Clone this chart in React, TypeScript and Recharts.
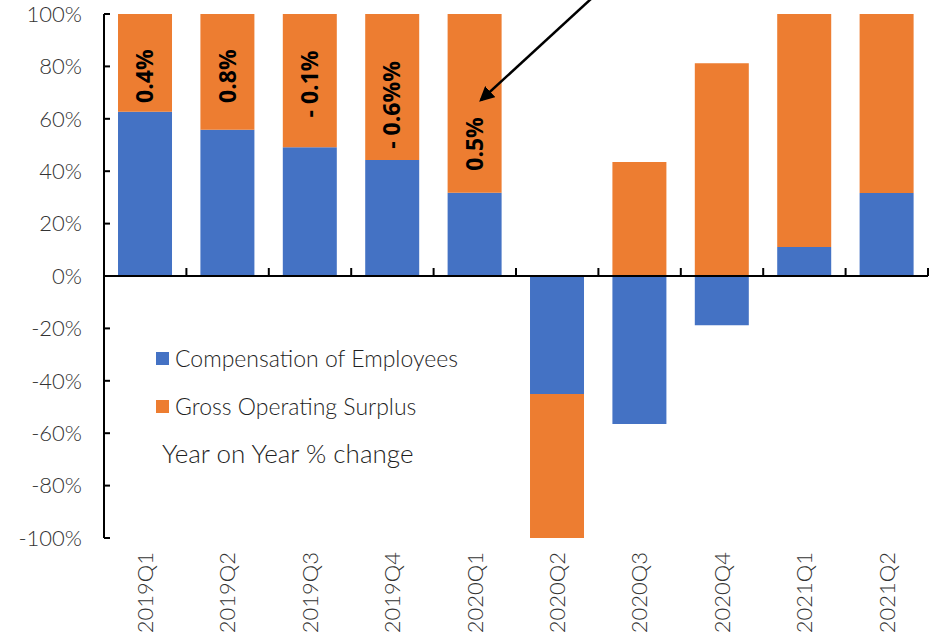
import {
  BarChart,
  Bar,
  XAxis,
  YAxis,
  ReferenceLine,
  ReferenceDot,
} from 'recharts';

const quarters = [
  '2019Q1', '2019Q2', '2019Q3', '2019Q4', '2020Q1',
  '2020Q2', '2020Q3', '2020Q4', '2021Q1', '2021Q2',
];
const compensation = [62.7, 55.8, 49.1, 44.3, 31.8, -45.0, -56.5, -18.8, 11.1, 31.7];
const surplus = [37.3, 44.2, 50.9, 55.7, 68.2, -55.0, 43.5, 81.2, 88.9, 68.3];
const yTicks = [-100, -80, -60, -40, -20, 0, 20, 40, 60, 80, 100];

// yoy % change notes written on the first five bars, and the level they sit at
const yoyNotes = ['0.4%', '0.8%', '- 0.1%', '- 0.6%%', '0.5%'];
const yoyNoteLevel = [76.3, 76.3, 73.3, 65.3, 50.4];

const BLUE = '#4472C4';
const ORANGE = '#ED7D31';
const FONT = 'Lato, "Open Sans", sans-serif';

const rows = quarters.map((q, i) => ({
  quarter: q,
  comp: compensation[i],
  gos: surplus[i],
}));

const ZeroAxis = (props: any) => {
  const { x1, y1, x2, y2 } = props;
  const step = (x2 - x1) / quarters.length;
  const marks = [];
  for (let i = 1; i <= quarters.length; i++) {
    marks.push(
      <line key={i} x1={x1 + i * step} x2={x1 + i * step} y1={y1} y2={y1 - 8} stroke="#000" strokeWidth={2} />
    );
  }
  return (
    <g>
      <line x1={x1} y1={y1} x2={x2} y2={y2} stroke="#000" strokeWidth={2} />
      {marks}
    </g>
  );
};

const QuarterTick = (props: any) => {
  const { x, y, payload } = props;
  return (
    <g transform={`translate(${x},${y + 6})`}>
      <text
        transform="rotate(-90)"
        textAnchor="end"
        dy="0.35em"
        fontSize={22}
        fontWeight={300}
        fontFamily={FONT}
        fill="#333"
      >
        {payload.value}
      </text>
    </g>
  );
};

const LegendBox = () => (
  <div
    style={{
      position: 'absolute',
      left: 156,
      top: 345,
      fontFamily: FONT,
      fontSize: 23,
      fontWeight: 300,
      color: '#1f1f1f',
      lineHeight: '26px',
    }}
  >
    <div style={{ display: 'flex', alignItems: 'center', height: 26 }}>
      <span style={{ width: 13, height: 13, background: BLUE, marginRight: 6 }} />
      Compensation of Employees
    </div>
    <div style={{ display: 'flex', alignItems: 'center', height: 26, marginTop: 22 }}>
      <span style={{ width: 13, height: 13, background: ORANGE, marginRight: 6 }} />
      Gross Operating Surplus
    </div>
    <div style={{ marginTop: 19, marginLeft: 6, fontSize: 26, lineHeight: '30px' }}>
      Year on Year % change
    </div>
  </div>
);

export default function App() {
  return (
    <div style={{ position: 'relative', width: 932, height: 642 }}>
      <style>{'body{margin:0}'}</style>
      <BarChart
        width={932}
        height={642}
        data={rows}
        stackOffset="sign"
        barCategoryGap="17%"
        margin={{ top: 14, right: 4, bottom: 0, left: 0 }}
      >
        <XAxis
          dataKey="quarter"
          axisLine={false}
          tickLine={false}
          interval={0}
          height={104}
          tick={<QuarterTick />}
        />
        <YAxis
          domain={[-100, 100]}
          ticks={yTicks}
          width={104}
          tickFormatter={(v) => `${v}%`}
          axisLine={{ stroke: '#000', strokeWidth: 2 }}
          tickLine={{ stroke: '#000', strokeWidth: 2 }}
          tickSize={-6}
          tickMargin={28}
          tick={{ fontSize: 22, fontWeight: 300, fontFamily: FONT, fill: '#333' }}
        />
        <Bar dataKey="comp" name="Compensation of Employees" stackId="a" fill={BLUE} isAnimationActive={false} />
        <Bar dataKey="gos" name="Gross Operating Surplus" stackId="a" fill={ORANGE} isAnimationActive={false} />
        <ReferenceLine y={0} shape={<ZeroAxis />} />
        {yoyNotes.map((note, i) => (
          <ReferenceDot
            key={note + i}
            x={quarters[i]}
            y={yoyNoteLevel[i]}
            r={0}
            shape={(p: any) => (
              <text
                transform={`translate(${p.cx},${p.cy}) rotate(-90)`}
                textAnchor="middle"
                dy="0.35em"
                fontSize={23}
                fontWeight={700}
                fontFamily='"Open Sans", sans-serif'
                fill="#000"
              >
                {note}
              </text>
            )}
          />
        ))}
      </BarChart>
      <LegendBox />
      <svg
        width={932}
        height={642}
        style={{ position: 'absolute', left: 0, top: 0, pointerEvents: 'none' }}
      >
        <defs>
          <marker id="head" markerWidth="6" markerHeight="6" refX="5" refY="3" orient="auto" markerUnits="strokeWidth">
            <path d="M0,0 L6,3 L0,6 Z" fill="#000" />
          </marker>
        </defs>
        <line x1={592} y1={-2} x2={481} y2={100} stroke="#000" strokeWidth={2.5} markerEnd="url(#head)" />
      </svg>
    </div>
  );
}
